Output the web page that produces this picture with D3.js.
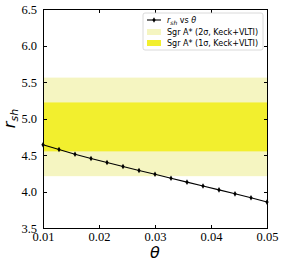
<!DOCTYPE html>
<html lang="en">
<head>
<meta charset="utf-8">
<title>r_sh vs theta</title>
<script src="https://cdn.jsdelivr.net/npm/d3@7"></script>
<style>
  body { margin: 0; background: #fff; }
  .axis path, .axis line { fill: none; stroke: #000; shape-rendering: crispEdges; }
  .legend text { font-family: "DejaVu Sans", sans-serif; font-size: 8px; fill: #000; }
</style>
</head>
<body>
<div id="chart"></div>
<script>
// data
var theta = [0.01, 0.012857, 0.015714, 0.018571, 0.021429, 0.024286, 0.027143, 0.03,
             0.032857, 0.035714, 0.038571, 0.041429, 0.044286, 0.047143, 0.05];
var rsh = [4.64, 4.575, 4.51, 4.452, 4.397, 4.342, 4.288, 4.236,
           4.182, 4.128, 4.076, 4.022, 3.968, 3.914, 3.855];
var band2sigma = [4.21, 5.56];
var band1sigma = [4.55, 5.22];
var xTicks = [0.01, 0.02, 0.03, 0.04, 0.05];
var yTicks = [3.5, 4.0, 4.5, 5.0, 5.5, 6.0, 6.5];

var W = 282, H = 269;
var margin = {top: 9, right: 15, bottom: 41, left: 43};
var w = W - margin.left - margin.right,
    h = H - margin.top - margin.bottom;

var svg = d3.select("#chart").append("svg")
    .attr("width", W).attr("height", H)
  .append("g")
    .attr("transform", "translate(" + margin.left + "," + margin.top + ")");

var x = d3.scaleLinear().domain([0.01, 0.05]).range([0, w]);
var y = d3.scaleLinear().domain([3.5, 6.5]).range([h, 0]);

// bands
svg.append("rect")
    .attr("x", 0).attr("width", w)
    .attr("y", y(band2sigma[1]))
    .attr("height", y(band2sigma[0]) - y(band2sigma[1]))
    .attr("fill", "#f5f5c1");
svg.append("rect")
    .attr("x", 0).attr("width", w)
    .attr("y", y(band1sigma[1]))
    .attr("height", y(band1sigma[0]) - y(band1sigma[1]))
    .attr("fill", "#f2ef2e");

// line + markers
var pts = theta.map(function(t, i) { return [t, rsh[i]]; });
svg.append("path")
    .datum(pts)
    .attr("fill", "none")
    .attr("stroke", "#000")
    .attr("stroke-width", 1.1)
    .attr("d", d3.line().x(function(d) { return x(d[0]); }).y(function(d) { return y(d[1]); }));

svg.selectAll(".mk")
    .data(pts).enter()
    .append("path")
    .attr("class", "mk")
    .attr("transform", function(d) { return "translate(" + x(d[0]) + "," + y(d[1]) + ")"; })
    .attr("d", d3.symbol().type(d3.symbolDiamond).size(9))
    .attr("fill", "#000");

// axes, ticks inward on all sides
var fmt = function(d) { return d.toFixed(2); };
var serif = "'Liberation Serif', 'DejaVu Serif', serif";
var xb = svg.append("g").attr("class", "axis")
    .attr("transform", "translate(0," + h + ")")
    .call(d3.axisBottom(x).tickValues(xTicks).tickFormat(fmt).tickSizeInner(-3.5).tickSizeOuter(0).tickPadding(4));
svg.append("g").attr("class", "axis")
    .call(d3.axisTop(x).tickValues(xTicks).tickFormat("").tickSizeInner(-3.5).tickSizeOuter(0));
var yl0 = svg.append("g").attr("class", "axis")
    .call(d3.axisLeft(y).tickValues(yTicks).tickFormat(d3.format(".1f")).tickSizeInner(-3.5).tickSizeOuter(0).tickPadding(6));
svg.append("g").attr("class", "axis")
    .attr("transform", "translate(" + w + ",0)")
    .call(d3.axisRight(y).tickValues(yTicks).tickFormat("").tickSizeInner(-3.5).tickSizeOuter(0));

xb.selectAll("text").style("font-family", serif).style("font-size", "12.5px");
yl0.selectAll("text").style("font-family", serif).style("font-size", "12.5px");

svg.append("rect")
    .attr("width", w).attr("height", h)
    .attr("fill", "none").attr("stroke", "#000").attr("stroke-width", 1)
    .attr("shape-rendering", "crispEdges");

// axis labels
svg.append("text")
    .attr("x", w / 2).attr("y", h + 30)
    .attr("text-anchor", "middle")
    .style("font-family", "'DejaVu Sans', sans-serif")
    .style("font-style", "italic")
    .style("font-size", "16px")
    .text("θ");

var yl = svg.append("text")
    .attr("transform", "translate(-28," + (h / 2) + ") rotate(-90)")
    .attr("text-anchor", "middle")
    .style("font-family", "'DejaVu Sans', sans-serif")
    .style("font-style", "italic")
    .style("font-size", "16px");
yl.append("tspan").text("r");
yl.append("tspan").attr("dy", 2.5).style("font-size", "11px").text("sh");

// legend
var lg = svg.append("g").attr("class", "legend")
    .attr("transform", "translate(" + (w - 124) + ",4)");
lg.append("rect")
    .attr("width", 120).attr("height", 37).attr("rx", 2)
    .attr("fill", "#fff").attr("fill-opacity", 0.8)
    .attr("stroke", "#d0d0d0").attr("stroke-width", 0.8);

lg.append("line").attr("x1", 4).attr("x2", 18).attr("y1", 7).attr("y2", 7)
    .attr("stroke", "#000").attr("stroke-width", 1.1);
lg.append("path").attr("transform", "translate(11,7)")
    .attr("d", d3.symbol().type(d3.symbolDiamond).size(9)).attr("fill", "#000");
var t1 = lg.append("text").attr("x", 24).attr("y", 10);
t1.append("tspan").style("font-style", "italic").text("r");
t1.append("tspan").attr("dy", 1.5).style("font-size", "6px").style("font-style", "italic").text("sh");
t1.append("tspan").attr("dy", -1.5).text(" vs ");
t1.append("tspan").style("font-style", "italic").text("θ");

lg.append("rect").attr("x", 4).attr("y", 16).attr("width", 14).attr("height", 6).attr("fill", "#f5f5c1");
lg.append("text").attr("x", 24).attr("y", 22).text("Sgr A* (2σ, Keck+VLTI)");
lg.append("rect").attr("x", 4).attr("y", 27).attr("width", 14).attr("height", 6).attr("fill", "#f2ef2e");
lg.append("text").attr("x", 24).attr("y", 33).text("Sgr A* (1σ, Keck+VLTI)");
</script>
</body>
</html>
